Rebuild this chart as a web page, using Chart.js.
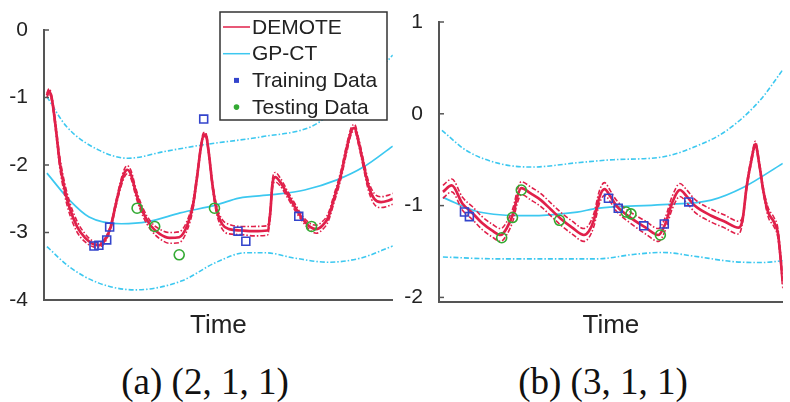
<!DOCTYPE html>
<html>
<head>
<meta charset="utf-8">
<script src="https://cdn.jsdelivr.net/npm/chart.js@4/dist/chart.umd.min.js"></script>
<style>
  body { margin: 0; background: #fff; width: 790px; height: 402px; position: relative; overflow: hidden; }
  canvas { position: absolute; top: 0; }
  .cap { position: absolute; top: 360px; font-family: "Liberation Serif", "Times New Roman", serif; font-size: 37px; color: #111; transform: translateX(-50%); white-space: nowrap; line-height: 44px; }
</style>
</head>
<body>
<canvas id="chartA" width="400" height="345" style="left:0"></canvas>
<canvas id="chartB" width="390" height="345" style="left:400px"></canvas>
<div class="cap" style="left:205px">(a) (2, 1, 1)</div>
<div class="cap" style="left:603px">(b) (3, 1, 1)</div>
<script>
// ---- panel (a): (2, 1, 1) ----
const yTicksA = [0, -1, -2, -3, -4];
const timeA = [3, 5, 8, 12, 16, 21, 26, 34, 42, 50, 56, 62, 68, 73, 78, 82, 85, 89, 94, 101,
  109, 118, 128, 138, 146, 152, 156, 160, 163, 165, 168, 172, 176, 182, 189, 201, 214, 228, 231, 233,
  236, 241, 248, 256, 264, 272, 278, 284, 290, 296, 303, 309, 314, 317, 321, 326, 331, 337, 344, 351, 356];
const demoteA = [-0.97, -0.90, -1.02, -1.45, -1.95, -2.35, -2.63, -2.92, -3.08, -3.17, -3.19, -3.12, -2.92, -2.6, -2.3, -2.12, -2.07, -2.15, -2.42, -2.7,
  -2.9, -3.02, -3.08, -3.07, -2.9, -2.6, -2.2, -1.75, -1.55, -1.55, -1.8, -2.3, -2.65, -2.88, -2.95, -2.97, -2.98, -2.97, -2.7, -2.3,
  -2.18, -2.25, -2.42, -2.62, -2.8, -2.92, -2.95, -2.9, -2.78, -2.5, -2.15, -1.75, -1.48, -1.45, -1.65, -1.98, -2.3, -2.5, -2.55, -2.53, -2.5];
const demoteUpA = [-0.94, -0.87, -0.98, -1.39, -1.87, -2.26, -2.54, -2.84, -3.02, -3.13, -3.16, -3.09, -2.89, -2.56, -2.25, -2.06, -2.01, -2.09, -2.36, -2.64,
  -2.84, -2.95, -3.0, -2.99, -2.83, -2.54, -2.15, -1.71, -1.52, -1.52, -1.76, -2.25, -2.59, -2.81, -2.88, -2.91, -2.91, -2.9, -2.63, -2.23,
  -2.11, -2.19, -2.37, -2.57, -2.76, -2.87, -2.89, -2.84, -2.72, -2.44, -2.09, -1.69, -1.43, -1.4, -1.6, -1.92, -2.23, -2.42, -2.47, -2.45, -2.42];
const demoteLoA = [-1.0, -0.93, -1.06, -1.51, -2.03, -2.44, -2.72, -3.0, -3.14, -3.21, -3.22, -3.15, -2.95, -2.64, -2.35, -2.18, -2.13, -2.21, -2.48, -2.76,
  -2.96, -3.09, -3.16, -3.15, -2.97, -2.66, -2.25, -1.79, -1.58, -1.58, -1.84, -2.35, -2.71, -2.95, -3.02, -3.03, -3.05, -3.04, -2.77, -2.37,
  -2.25, -2.31, -2.47, -2.67, -2.84, -2.97, -3.01, -2.96, -2.84, -2.56, -2.21, -1.81, -1.53, -1.5, -1.7, -2.04, -2.37, -2.58, -2.63, -2.61, -2.58];
const gpTimeA = [3, 26, 46, 79, 106, 139, 176, 199, 233, 266, 299, 326, 356];
const gpA = [-2.12, -2.52, -2.77, -2.87, -2.84, -2.71, -2.59, -2.49, -2.44, -2.37, -2.22, -2.03, -1.72];
const gpUpTimeA = [3, 23, 56, 86, 123, 163, 223, 273, 296, 323, 356];
const gpUpA = [-0.99, -1.43, -1.78, -1.90, -1.80, -1.70, -1.58, -1.43, -1.2, -0.89, -0.37];
const gpLoTimeA = [3, 26, 56, 93, 140, 176, 206, 226, 256, 290, 323, 356];
const gpLoA = [-3.21, -3.51, -3.75, -3.85, -3.72, -3.44, -3.3, -3.3, -3.38, -3.44, -3.38, -3.2];
const trainTimeA = [51, 56, 64, 67, 163, 198, 206, 260];
const trainA = [-3.2, -3.19, -3.11, -2.92, -1.32, -2.98, -3.13, -2.76];
const testTimeA = [95, 113, 138, 174, 273];
const testA = [-2.64, -2.91, -3.33, -2.64, -2.91];

// ---- panel (b): (3, 1, 1) ----
const yTicksB = [1, 0, -1, -2];
const timeB = [4, 13, 24, 34, 44, 54, 63, 69, 76, 80, 84, 94, 104, 114, 124, 136, 148, 153, 158, 164,
  169, 175, 181, 194, 211, 224, 231, 238, 246, 253, 261, 278, 291, 306, 310, 314, 319, 323, 327, 331,
  336, 342, 346, 349, 351];
const demoteB = [-0.85, -0.78, -0.98, -1.08, -1.19, -1.27, -1.32, -1.25, -1.08, -0.9, -0.81, -0.87, -0.94, -1.04, -1.14, -1.24, -1.32, -1.28, -1.16, -0.9,
  -0.82, -0.9, -1.0, -1.12, -1.24, -1.32, -1.2, -0.97, -0.83, -0.9, -1.0, -1.11, -1.17, -1.24, -1.15, -0.8, -0.5, -0.33, -0.55, -0.83,
  -1.07, -1.18, -1.3, -1.6, -1.85];
const demoteUpB = [-0.78, -0.71, -0.91, -1.01, -1.12, -1.2, -1.25, -1.18, -1.01, -0.83, -0.74, -0.8, -0.87, -0.97, -1.07, -1.17, -1.25, -1.21, -1.09, -0.83,
  -0.75, -0.84, -0.94, -1.06, -1.17, -1.25, -1.13, -0.9, -0.76, -0.83, -0.93, -1.04, -1.1, -1.17, -1.12, -0.77, -0.47, -0.3, -0.52, -0.8,
  -1.02, -1.13, -1.25, -1.55, -1.8];
const demoteLoB = [-0.92, -0.85, -1.05, -1.15, -1.26, -1.34, -1.39, -1.32, -1.15, -0.97, -0.88, -0.94, -1.01, -1.11, -1.21, -1.31, -1.39, -1.35, -1.23, -0.97,
  -0.89, -0.96, -1.06, -1.18, -1.31, -1.39, -1.27, -1.04, -0.9, -0.97, -1.07, -1.18, -1.24, -1.31, -1.18, -0.83, -0.53, -0.36, -0.58, -0.86,
  -1.12, -1.23, -1.35, -1.65, -1.9];
const gpTimeB = [4, 41, 91, 141, 161, 228, 278, 311, 351];
const gpB = [-0.91, -1.07, -1.11, -1.07, -1.03, -0.99, -0.94, -0.80, -0.54];
const gpUpTimeB = [3, 28, 61, 94, 144, 178, 228, 261, 294, 328, 351];
const gpUpB = [-0.18, -0.40, -0.54, -0.58, -0.53, -0.50, -0.47, -0.36, -0.18, 0.15, 0.48];
const gpLoTimeB = [4, 60, 124, 161, 200, 228, 260, 300, 330, 351];
const gpLoB = [-1.56, -1.58, -1.58, -1.58, -1.53, -1.51, -1.55, -1.61, -1.62, -1.6];
const trainTimeB = [26, 31, 173, 183, 209, 230, 255];
const trainB = [-1.07, -1.12, -0.92, -1.03, -1.22, -1.20, -0.96];
const testTimeB = [64, 75, 84, 123, 191, 196, 226];
const testB = [-1.35, -1.13, -0.83, -1.16, -1.07, -1.09, -1.32];

const RED = '#e0204a';
const CYAN = '#3cc8f0';
const BLUE = '#3344cc';
const GREEN = '#33aa33';
const DASHDOT = [5, 2, 1.5, 2];
const AXIS = '#555';

const zip = (xs, ys) => xs.map((x, i) => ({ x: x, y: ys[i] }));

function lineDs(label, xs, ys, color, width, dash) {
  return {
    label: label, data: zip(xs, ys), showLine: true,
    borderColor: color, borderWidth: width, borderDash: dash || [],
    pointRadius: 0, cubicInterpolationMode: 'monotone', fill: false
  };
}

function pointDs(label, xs, ys, color, style, r) {
  return {
    label: label, data: zip(xs, ys), showLine: false,
    pointStyle: style, pointRadius: r, pointBorderColor: color,
    pointBackgroundColor: 'rgba(0,0,0,0)', pointBorderWidth: 1.6
  };
}

// short tick marks pointing into the plot, like the original figure
const inwardTicks = {
  id: 'inwardTicks',
  afterDraw(chart) {
    const s = chart.scales.y;
    const ctx = chart.ctx;
    ctx.save();
    ctx.strokeStyle = AXIS;
    ctx.lineWidth = 1.5;
    s.ticks.forEach(t => {
      const y = s.getPixelForValue(t.value);
      ctx.beginPath();
      ctx.moveTo(s.right, y);
      ctx.lineTo(s.right + 5, y);
      ctx.stroke();
    });
    ctx.restore();
  }
};

// boxed legend drawn inside panel (a)
const legendItems = [
  { label: 'DEMOTE', kind: 'line', color: RED },
  { label: 'GP-CT', kind: 'line', color: CYAN },
  { label: 'Training Data', kind: 'square', color: BLUE },
  { label: 'Testing Data', kind: 'dot', color: GREEN }
];
const boxLegend = {
  id: 'boxLegend',
  afterDraw(chart) {
    const ctx = chart.ctx;
    const x0 = 220, y0 = 12, w = 167, h = 108;
    ctx.save();
    ctx.fillStyle = '#fff';
    ctx.fillRect(x0, y0, w, h);
    ctx.strokeStyle = '#333';
    ctx.lineWidth = 1.5;
    ctx.strokeRect(x0, y0, w, h);
    ctx.font = '21px "Liberation Sans", Arial, sans-serif';
    ctx.textBaseline = 'middle';
    legendItems.forEach((it, i) => {
      const y = y0 + 15 + i * 26.7;
      if (it.kind === 'line') {
        ctx.strokeStyle = it.color;
        ctx.lineWidth = 1.5;
        ctx.beginPath();
        ctx.moveTo(x0 + 3, y);
        ctx.lineTo(x0 + 30, y);
        ctx.stroke();
      } else if (it.kind === 'square') {
        ctx.fillStyle = it.color;
        ctx.fillRect(x0 + 14, y - 2.5, 5, 5);
      } else {
        ctx.fillStyle = it.color;
        ctx.beginPath();
        ctx.arc(x0 + 16.5, y, 2.8, 0, Math.PI * 2);
        ctx.fill();
      }
      ctx.fillStyle = '#222';
      ctx.fillText(it.label, x0 + 32, y + 1);
    });
    ctx.restore();
  }
};

function makeChart(id, p) {
  return new Chart(document.getElementById(id), {
    type: 'scatter',
    data: {
      datasets: [
        pointDs('Training Data', p.trainTime, p.train, BLUE, 'rect', 5.6),
        pointDs('Testing Data', p.testTime, p.test, GREEN, 'circle', 5),
        lineDs('DEMOTE', p.time, p.demote, RED, 2.7),
        lineDs('DEMOTE upper', p.time, p.demoteUp, RED, 1.6, DASHDOT),
        lineDs('DEMOTE lower', p.time, p.demoteLo, RED, 1.6, DASHDOT),
        lineDs('GP-CT', p.gpTime, p.gp, CYAN, 1.7),
        lineDs('GP-CT upper', p.gpUpTime, p.gpUp, CYAN, 1.6, DASHDOT),
        lineDs('GP-CT lower', p.gpLoTime, p.gpLo, CYAN, 1.6, DASHDOT)
      ]
    },
    options: {
      responsive: false,
      animation: false,
      layout: { padding: { top: p.padTop, right: 0, left: 0, bottom: 0 } },
      plugins: { legend: { display: false }, tooltip: { enabled: false } },
      scales: {
        x: {
          type: 'linear', min: 0, max: p.xMax,
          grid: { display: false },
          border: { display: true, color: AXIS, width: 2 },
          ticks: { display: false },
          title: {
            display: true, text: 'Time', color: '#222',
            font: { family: '"Liberation Sans", Arial, sans-serif', size: 26 },
            padding: { top: 0, bottom: 4 }
          },
          afterFit(s) { s.height = p.xHeight; }
        },
        y: {
          min: p.yMin, max: p.yMax,
          grid: { display: false },
          border: { display: true, color: AXIS, width: 2 },
          ticks: {
            color: '#222', padding: 8,
            font: { family: '"Liberation Sans", Arial, sans-serif', size: 21 }
          },
          afterBuildTicks(s) { s.ticks = p.yTicks.map(v => ({ value: v })); },
          afterFit(s) { s.width = p.yWidth; }
        }
      }
    },
    plugins: p.plugins
  });
}

makeChart('chartA', {
  time: timeA, demote: demoteA, demoteUp: demoteUpA, demoteLo: demoteLoA,
  gpTime: gpTimeA, gp: gpA, gpUpTime: gpUpTimeA, gpUp: gpUpA, gpLoTime: gpLoTimeA, gpLo: gpLoA,
  trainTime: trainTimeA, train: trainA, testTime: testTimeA, test: testA,
  yTicks: yTicksA, yMin: -4, yMax: 0, xMax: 356,
  padTop: 30, xHeight: 45, yWidth: 44,
  plugins: [inwardTicks, boxLegend]
});

makeChart('chartB', {
  time: timeB, demote: demoteB, demoteUp: demoteUpB, demoteLo: demoteLoB,
  gpTime: gpTimeB, gp: gpB, gpUpTime: gpUpTimeB, gpUp: gpUpB, gpLoTime: gpLoTimeB, gpLo: gpLoB,
  trainTime: trainTimeB, train: trainB, testTime: testTimeB, test: testB,
  yTicks: yTicksB, yMin: -2.05, yMax: 1, xMax: 351,
  padTop: 22, xHeight: 43, yWidth: 39,
  plugins: [inwardTicks]
});
</script>
</body>
</html>
